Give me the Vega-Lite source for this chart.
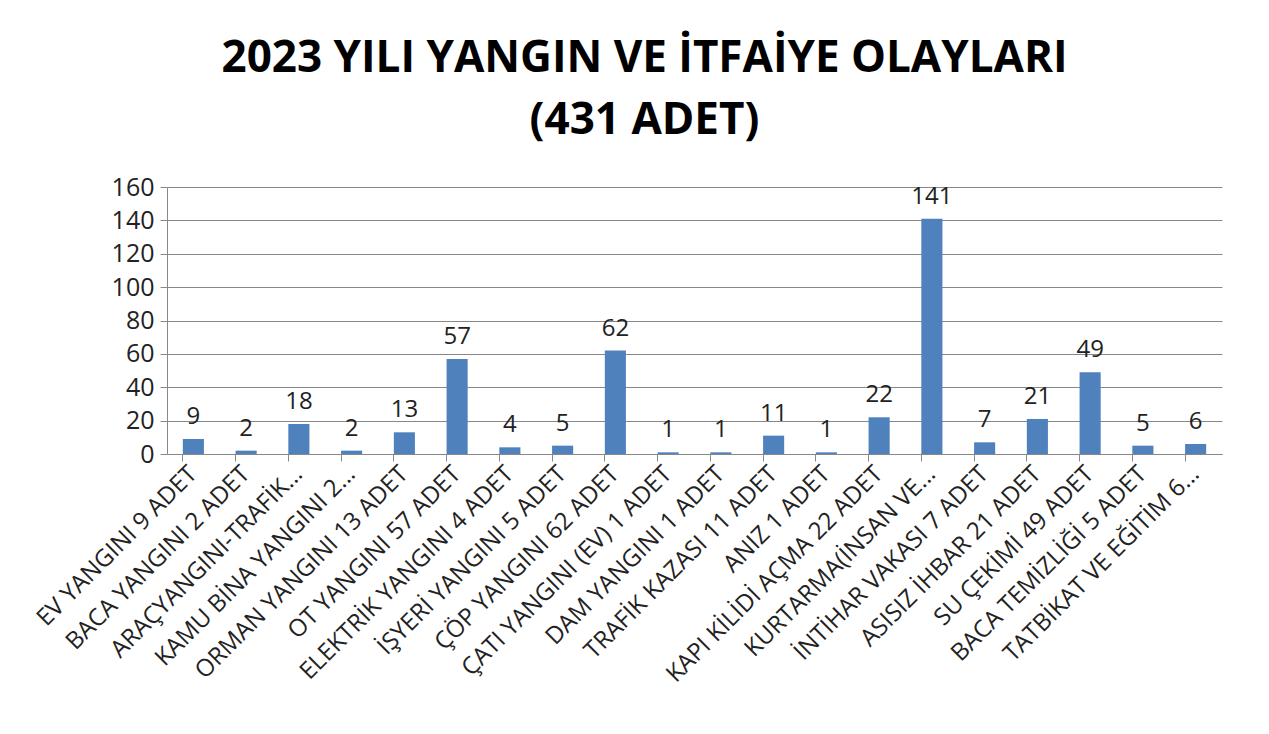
{
  "$schema": "https://vega.github.io/schema/vega-lite/v6.json",
  "width": 1055,
  "height": 267,
  "autosize": {"type": "none"},
  "padding": {"left": 167, "top": 187, "right": 47, "bottom": 280},
  "background": "white",
  "title": {
    "text": ["2023 YILI YANGIN VE İTFAİYE OLAYLARI", "(431 ADET)"],
    "font": "Open Sans",
    "fontSize": 44,
    "fontWeight": "bold",
    "color": "#000000",
    "lineHeight": 62,
    "anchor": "middle",
    "dx": -50,
    "offset": 32
  },
  "data": {
    "values": [
      {"olay": "EV YANGINI 9 ADET", "sayi": 9},
      {"olay": "BACA YANGINI 2 ADET", "sayi": 2},
      {"olay": "ARAÇYANGINI-TRAFİK...", "sayi": 18},
      {"olay": "KAMU BİNA YANGINI 2...", "sayi": 2},
      {"olay": "ORMAN YANGINI 13 ADET", "sayi": 13},
      {"olay": "OT YANGINI 57 ADET", "sayi": 57},
      {"olay": "ELEKTRİK YANGINI 4 ADET", "sayi": 4},
      {"olay": "İŞYERİ YANGINI 5 ADET", "sayi": 5},
      {"olay": "ÇÖP YANGINI 62 ADET", "sayi": 62},
      {"olay": "ÇATI YANGINI (EV) 1 ADET", "sayi": 1},
      {"olay": "DAM YANGINI 1 ADET", "sayi": 1},
      {"olay": "TRAFİK KAZASI 11 ADET", "sayi": 11},
      {"olay": "ANIZ 1 ADET", "sayi": 1},
      {"olay": "KAPI KİLİDİ AÇMA 22 ADET", "sayi": 22},
      {"olay": "KURTARMA(İNSAN VE...", "sayi": 141},
      {"olay": "İNTİHAR VAKASI 7 ADET", "sayi": 7},
      {"olay": "ASISIZ İHBAR 21 ADET", "sayi": 21},
      {"olay": "SU ÇEKİMİ 49 ADET", "sayi": 49},
      {"olay": "BACA TEMİZLİĞİ 5 ADET", "sayi": 5},
      {"olay": "TATBİKAT VE EĞİTİM 6...", "sayi": 6}
    ]
  },
  "encoding": {
    "x": {
      "field": "olay",
      "type": "nominal",
      "sort": null,
      "scale": {"paddingInner": 0.6, "paddingOuter": 0.3},
      "axis": {
        "title": null,
        "labelAngle": -45,
        "labelAlign": "right",
        "labelBaseline": "middle",
        "labelFont": "Open Sans",
        "labelFontSize": 24,
        "labelColor": "#222222",
        "labelPadding": 9,
        "labelLimit": 500,
        "bandPosition": 0,
        "tickSize": 7,
        "tickColor": "#888888",
        "domainColor": "#888888",
        "grid": false
      }
    },
    "y": {
      "field": "sayi",
      "type": "quantitative",
      "scale": {"domain": [0, 160], "nice": false},
      "axis": {
        "title": null,
        "values": [0, 20, 40, 60, 80, 100, 120, 140, 160],
        "labelFont": "Open Sans",
        "labelFontSize": 25,
        "labelColor": "#222222",
        "labelPadding": 6,
        "tickSize": 7,
        "tickColor": "#888888",
        "domainColor": "#888888",
        "gridColor": "#888888",
        "grid": true
      }
    }
  },
  "layer": [
    {"mark": {"type": "bar", "color": "#4F81BD"}},
    {
      "mark": {
        "type": "text",
        "baseline": "bottom",
        "dy": -10,
        "font": "Open Sans",
        "fontSize": 24,
        "color": "#222222"
      },
      "encoding": {"text": {"field": "sayi", "type": "quantitative"}}
    }
  ],
  "config": {"view": {"stroke": null}}
}
